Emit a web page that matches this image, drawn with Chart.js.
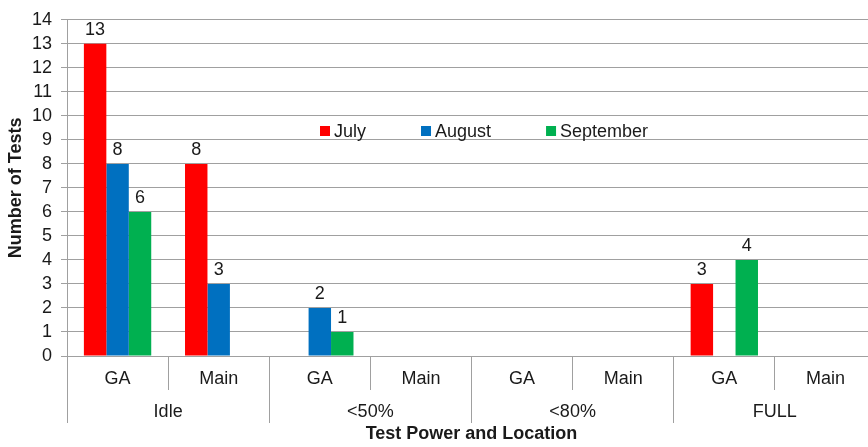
<!DOCTYPE html>
<html>
<head>
<meta charset="utf-8">
<script src="https://cdn.jsdelivr.net/npm/chart.js@4.4.1/dist/chart.umd.min.js"></script>
<style>
  html, body { margin: 0; padding: 0; overflow: hidden; background: #fff; }
  #wrap { width: 877px; height: 447px; }
</style>
</head>
<body>
<div id="wrap"><canvas id="c" width="877" height="447"></canvas></div>
<script>
// ---- data ----
const categories = ['GA', 'Main', 'GA', 'Main', 'GA', 'Main', 'GA', 'Main'];
const groups = ['Idle', '<50%', '<80%', 'FULL'];
const seriesNames = ['July', 'August', 'September'];
const july = [13, 8, null, null, null, null, 3, null];
const august = [8, 3, 2, null, null, null, null, null];
const september = [6, null, 1, null, null, null, 4, null];
const seriesColors = ['#FF0000', '#0070C0', '#00B050'];
const yTicks = [0, 1, 2, 3, 4, 5, 6, 7, 8, 9, 10, 11, 12, 13, 14];

const FONT = 'Liberation Sans, Arial, sans-serif';
const GRID = '#A0A0A0';
const TEXT = '#1a1a1a';
const FS = 18;

const valueLabels = {
  id: 'valueLabels',
  afterDatasetsDraw(chart) {
    const ctx = chart.ctx;
    ctx.save();
    ctx.font = FS + 'px ' + FONT;
    ctx.fillStyle = TEXT;
    ctx.textAlign = 'center';
    ctx.textBaseline = 'alphabetic';
    chart.data.datasets.forEach((ds, di) => {
      const meta = chart.getDatasetMeta(di);
      meta.data.forEach((bar, i) => {
        const v = ds.data[i];
        if (v === null || v === undefined) return;
        ctx.fillText(String(v), bar.x, bar.y - 9);
      });
    });
    ctx.restore();
  }
};

const innerLegend = {
  id: 'innerLegend',
  afterDraw(chart) {
    const ctx = chart.ctx;
    ctx.save();
    ctx.font = FS + 'px ' + FONT;
    ctx.textBaseline = 'middle';
    ctx.textAlign = 'left';
    let x = 320;
    const yc = 131;
    chart.data.datasets.forEach(ds => {
      ctx.fillStyle = ds.backgroundColor;
      ctx.fillRect(x, yc - 5, 10, 10);
      ctx.fillStyle = TEXT;
      ctx.fillText(ds.label, x + 14, yc + 1);
      x += 14 + ctx.measureText(ds.label).width + 55;
    });
    ctx.restore();
  }
};

new Chart(document.getElementById('c'), {
  type: 'bar',
  data: {
    labels: categories,
    datasets: [
      { label: seriesNames[0], data: july, backgroundColor: seriesColors[0] },
      { label: seriesNames[1], data: august, backgroundColor: seriesColors[1] },
      { label: seriesNames[2], data: september, backgroundColor: seriesColors[2] }
    ]
  },
  options: {
    responsive: false,
    animation: false,
    devicePixelRatio: 1,
    layout: { padding: { top: 18, right: 1, left: 0, bottom: 0 } },
    datasets: { bar: { categoryPercentage: 0.666, barPercentage: 1.0 } },
    plugins: {
      legend: { display: false },
      tooltip: { enabled: false }
    },
    scales: {
      x: {
        type: 'category',
        position: 'bottom',
        offset: true,
        grid: { offset: true, drawOnChartArea: false, drawTicks: true, tickLength: 34, color: GRID, lineWidth: 1 },
        border: { display: true, color: GRID },
        ticks: { font: { family: FONT, size: FS }, color: TEXT, padding: -22, maxRotation: 0, autoSkip: false },
        afterFit(s) { s.height = 34; }
      },
      x2: {
        type: 'category',
        position: 'bottom',
        labels: groups,
        offset: true,
        grid: { offset: true, drawOnChartArea: false, drawTicks: true, tickLength: 33, color: GRID, lineWidth: 1 },
        border: { display: false },
        ticks: { font: { family: FONT, size: FS }, color: TEXT, padding: -22, maxRotation: 0, autoSkip: false },
        title: { display: true, text: 'Test Power and Location', font: { family: FONT, size: FS, weight: 'bold' }, color: TEXT, padding: { top: 0, bottom: 2 } },
        afterFit(s) { s.height = 57; }
      },
      y: {
        min: 0,
        max: 14,
        afterBuildTicks(s) { s.ticks = yTicks.map(v => ({ value: v })); },
        grid: { color: GRID, lineWidth: 1, drawTicks: true, tickLength: 6 },
        border: { display: true, color: GRID },
        ticks: { font: { family: FONT, size: FS }, color: TEXT, padding: 9, autoSkip: false },
        title: { display: true, text: 'Number of Tests', font: { family: FONT, size: FS, weight: 'bold' }, color: TEXT, padding: { top: 5, bottom: 0 } },
        afterFit(s) { s.width = 67; }
      }
    }
  },
  plugins: [valueLabels, innerLegend]
});
</script>
</body>
</html>
